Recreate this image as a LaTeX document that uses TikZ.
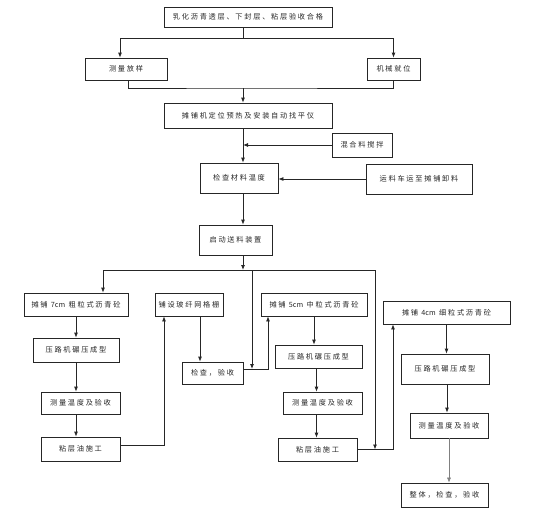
\documentclass[tikz,border=0pt]{standalone}
\usepackage{fontspec}
\usepackage{tikz}
\usetikzlibrary{positioning,arrows.meta,calc}
\newfontfamily\cjk[LetterSpace=24]{Noto Sans CJK SC}
\newfontfamily\plain{Noto Sans CJK SC}

\begin{document}
\begin{tikzpicture}[x=1pt, y=-1pt,
  stage/.style={draw=black!85, line width=0.8pt, align=center, inner sep=0pt, font=\cjk\fontsize{7.2}{8}\selectfont, text=black!85},
  arr/.style={-{Latex[length=5pt,width=4pt]}, line width=0.8pt, draw=black!85},
  link/.style={line width=0.8pt, draw=black!85}]
\useasboundingbox (0,0) rectangle (560,509);
% top part
\node[stage, minimum width=168pt, minimum height=20pt] (accept) at (248,17) {乳化沥青透层、下封层、粘层验收合格};
\node[stage, minimum width=82pt, minimum height=22pt] (survey) at (126,69) {测量放样};
\node[stage, minimum width=53pt, minimum height=22pt] (machine) at (393.5,69) {机械就位};
\node[stage, minimum width=168pt, minimum height=25pt] (paver) at (248,115.5) {摊铺机定位预热及安装自动找平仪};
\node[stage, minimum width=60pt, minimum height=24pt] (mix) at (362,145) {混合料搅拌};
\node[stage, minimum width=78pt, minimum height=30pt] (check) at (239,178) {检查材料温度};
\node[stage, minimum width=106pt, minimum height=30pt] (truck) at (419,179) {运料车运至摊铺卸料};
\node[stage, minimum width=73pt, minimum height=30pt] (start) at (235.5,240) {启动送料装置};
% layers
\node[stage, minimum width=104pt, minimum height=23pt] (lay7) at (76,304.5) {摊铺 {\plain 7cm} 粗粒式沥青砼};
\node[stage, minimum width=68pt, minimum height=23pt] (grid) at (189,304.5) {铺设玻纤网格栅};
\node[stage, minimum width=106pt, minimum height=23pt] (lay5) at (314,304.5) {摊铺 {\plain 5cm} 中粒式沥青砼};
\node[stage, minimum width=127pt, minimum height=23pt] (lay4) at (446.5,312.5) {摊铺 {\plain 4cm} 细粒式沥青砼};
\node[stage, minimum width=86pt, minimum height=24pt] (roll7) at (76,350) {压路机碾压成型};
\node[stage, minimum width=79pt, minimum height=22pt] (temp7) at (80.5,403) {测量温度及验收};
\node[stage, minimum width=79pt, minimum height=24pt] (tack7) at (80.5,449) {粘层油施工};
\node[stage, minimum width=61pt, minimum height=22pt] (insp) at (212.5,373) {检查，验收};
\node[stage, minimum width=87pt, minimum height=23pt] (roll5) at (318.5,356.5) {压路机碾压成型};
\node[stage, minimum width=79pt, minimum height=22pt] (temp5) at (322.5,403) {测量温度及验收};
\node[stage, minimum width=79pt, minimum height=23pt] (tack5) at (317.5,449.5) {粘层油施工};
\node[stage, minimum width=88pt, minimum height=30pt] (roll4) at (445,369) {压路机碾压成型};
\node[stage, minimum width=78pt, minimum height=25pt] (temp4) at (449,425.5) {测量温度及验收};
\node[stage, minimum width=87pt, minimum height=24pt] (final) at (444.5,495) {整体，检查，验收};
% junctions
\coordinate (split) at (243,38);
\coordinate (join) at (243,88);
\coordinate (busL) at (103,270);
\coordinate (busM) at (252,270);
\coordinate (busC) at (243,270);
\coordinate (busR) at (375,270);
\coordinate (inspR) at ([yshift=4pt]insp.east);
% connectors
\draw[link] (accept.south -| split) -- (split);
\draw[arr] (split) -| ([xshift=-6pt]survey.north);
\draw[arr] (split) -| (machine.north);
\draw[link] ([xshift=2pt]survey.south) |- (join) -| (machine.south);
\draw[arr] (join) -- (paver.north -| join);
\draw[arr] (paver.south -| join) -- (check.north -| join);
\draw[arr] (mix.west) -- (mix.west -| join);
\draw[arr] (truck.west) -- (truck.west -| check.east);
\draw[arr] (check.south -| join) -- (start.north -| join);
\draw[arr] (start.south -| busC) -- (busC);
\draw[arr] (busR) -- (busL) -- (busL |- lay7.north);
\draw[arr] (busM) -- (busM |- inspR);
\draw[arr] (busR) -- (busR |- tack5.east);
% 7cm branch
\draw[arr] (lay7.south) -- (lay7.south |- roll7.north);
\draw[arr] (roll7.south) -- (roll7.south |- temp7.north);
\draw[arr] (roll7.south |- temp7.south) -- (roll7.south |- tack7.north);
\draw[arr] ([yshift=4pt]tack7.east) -| ([xshift=-25pt]grid.south);
\draw[arr] ([xshift=11pt]grid.south) -- ([xshift=11pt]grid.south |- insp.north);
% 5cm branch
\draw[arr] (inspR) -| ([xshift=-46pt]lay5.south);
\draw[arr] (lay5.south) -- (lay5.south |- roll5.north);
\draw[arr] ([xshift=-2pt]roll5.south) -- ([xshift=-2pt]roll5.south |- temp5.north);
\draw[arr] ([xshift=-2pt]roll5.south |- temp5.south) -- ([xshift=-2pt]roll5.south |- tack5.north);
% 4cm branch
\draw[arr] (tack5.east) -| ([xshift=-53.5pt]lay4.south);
\draw[arr] (lay4.south) -- (lay4.south |- roll4.north);
\draw[arr] ([xshift=2pt]roll4.south) -- ([xshift=2pt]roll4.south |- temp4.north);
\draw[arr, draw=black!50, line width=0.5pt] (temp4.south) -- (final.north -| temp4.south);
\end{tikzpicture}
\end{document}
